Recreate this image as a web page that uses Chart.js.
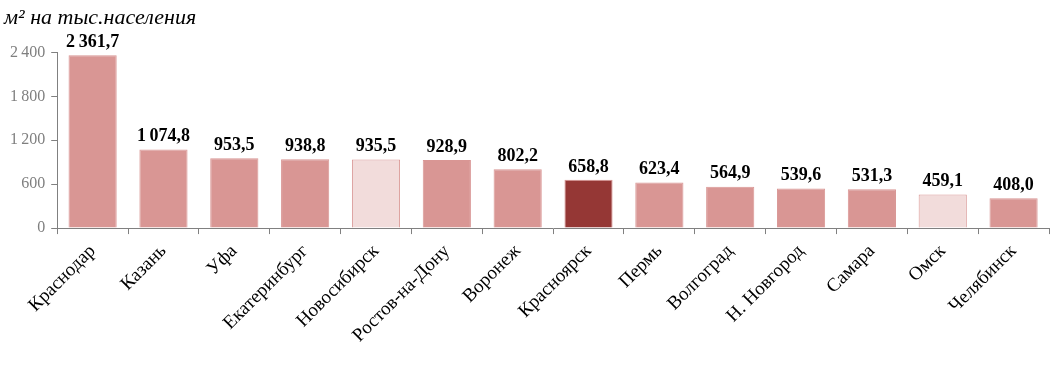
<!DOCTYPE html>
<html>
<head>
<meta charset="utf-8">
<script src="https://cdn.jsdelivr.net/npm/chart.js@4/dist/chart.umd.min.js"></script>
<style>
    body { margin: 0; background: #fff; }
    #wrap { width: 1062px; height: 383px; }
</style>
</head>
<body>
<div id="wrap"><canvas id="myChart"></canvas></div>
<script>
const cities = ['Краснодар', 'Казань', 'Уфа', 'Екатеринбург', 'Новосибирск', 'Ростов-на-Дону',
    'Воронеж', 'Красноярск', 'Пермь', 'Волгоград', 'Н. Новгород', 'Самара', 'Омск', 'Челябинск'];
const values = [2361.7, 1074.8, 953.5, 938.8, 935.5, 928.9, 802.2, 658.8, 623.4, 564.9, 539.6, 531.3, 459.1, 408.0];
const yTicks = [0, 600, 1200, 1800, 2400];

const normal = '#d99694';
const light = '#f2dcdb';
const dark = '#953735';
const fills = cities.map((c) => {
    if (c === 'Красноярск') return dark;
    if (c === 'Новосибирск' || c === 'Омск') return light;
    return normal;
});

function fmt(v, dec) {
    const parts = v.toFixed(dec).split('.');
    const int = parts[0].replace(/\B(?=(\d{3})+(?!\d))/g, '\u2009');
    return parts.length > 1 ? int + ',' + parts[1] : int;
}

// value labels above bars
const valueLabels = {
    id: 'valueLabels',
    afterDatasetsDraw(chart) {
        const ctx = chart.ctx;
        const meta = chart.getDatasetMeta(0);
        ctx.save();
        ctx.font = 'bold 18px "Liberation Serif", "Times New Roman", serif';
        ctx.fillStyle = '#000';
        ctx.textAlign = 'center';
        ctx.textBaseline = 'bottom';
        meta.data.forEach((bar, i) => {
            ctx.fillText(fmt(values[i], 1), bar.x, bar.y - 4);
        });
        ctx.restore();
    }
};

const serif = '"Liberation Serif", "Times New Roman", serif';

const ctx = document.getElementById('myChart');
const myChart = new Chart(ctx, { // eslint-disable-line
    type: 'bar',
    data: {
        labels: cities,
        datasets: [{
            data: values,
            backgroundColor: fills,
            borderColor: normal,
            borderWidth: 1,
            barPercentage: 0.68,
            categoryPercentage: 1
        }]
    },
    options: {
        responsive: true,
        maintainAspectRatio: false,
        animation: false,
        layout: { padding: { left: 4, right: 13, top: 0, bottom: 30 } },
        plugins: {
            legend: { display: false },
            tooltip: { enabled: false },
            title: {
                display: true,
                text: 'м² на тыс.населения',
                align: 'start',
                color: '#000',
                font: { family: serif, size: 22, style: 'italic', weight: 'normal' },
                padding: { top: 5, bottom: 21 }
            }
        },
        scales: {
            x: {
                grid: { drawOnChartArea: false, color: '#808080', tickLength: 6, offset: true },
                border: { color: '#808080' },
                ticks: {
                    color: '#000',
                    font: { family: serif, size: 19 },
                    minRotation: 45,
                    maxRotation: 45,
                    autoSkip: false,
                    padding: 6
                }
            },
            y: {
                min: 0,
                max: 2400,
                afterBuildTicks: (axis) => {
                    axis.ticks = yTicks.map((v) => ({ value: v }));
                },
                grid: { drawOnChartArea: false, color: '#808080', tickLength: 6 },
                border: { color: '#808080' },
                ticks: {
                    color: '#7f7f7f',
                    font: { family: serif, size: 16 },
                    padding: 6,
                    callback: (v) => fmt(v, 0)
                }
            }
        }
    },
    plugins: [valueLabels]
});
</script>
</body>
</html>
